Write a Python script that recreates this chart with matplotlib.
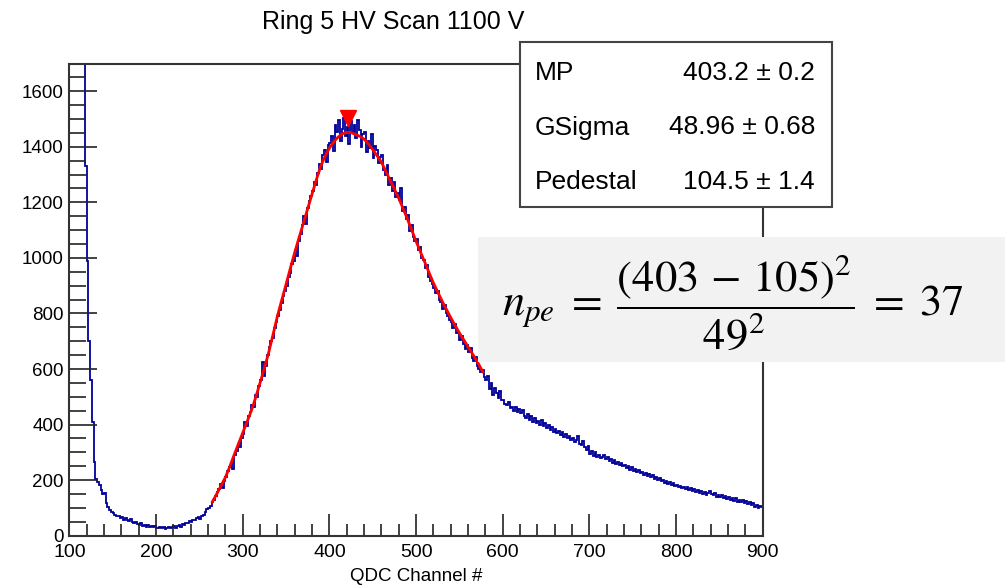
import numpy as np
import matplotlib
matplotlib.use("Agg")
import matplotlib.pyplot as plt
from matplotlib.patches import Rectangle
from matplotlib.ticker import MultipleLocator

plt.rcParams['font.family'] = ['Liberation Sans', 'DejaVu Sans']
plt.rcParams['mathtext.fontset'] = 'stix'

# QDC spectrum, 2-channel bins from 100 to 900
bin_edges = np.arange(100, 902, 2)
counts = [
    9800, 9200, 8100, 6700, 5300, 4100, 3100, 2400, 1780, 1330,
    990, 700, 560, 410, 265, 205, 195, 182, 165, 150,
    155, 118, 104, 92, 86, 80, 76, 72, 70, 62,
    68, 58, 64, 55, 52, 60, 48, 45, 50, 42,
    38, 44, 36, 40, 33, 38, 31, 35, 30, 34,
    29, 26, 32, 28, 30, 25, 29, 33, 27, 31,
    34, 28, 36, 38, 33, 42, 40, 46, 44, 52,
    50, 58, 55, 62, 66, 60, 72, 76, 85, 96,
    98, 108, 122, 130, 142, 158, 168, 185, 172, 198,
    210, 232, 248, 262, 240, 292, 305, 330, 318, 352,
    365, 410, 395, 432, 445, 470, 462, 505, 498, 540,
    560, 625, 575, 610, 652, 680, 700, 712, 748, 770,
    790, 812, 838, 862, 880, 900, 932, 945, 978, 990,
    1030, 1008, 1060, 1085, 1118, 1150, 1122, 1180, 1205, 1222,
    1240, 1275, 1262, 1305, 1338, 1320, 1372, 1390, 1345, 1408,
    1415, 1440, 1385, 1478, 1455, 1498, 1420, 1465, 1505, 1440,
    1470, 1410, 1492, 1455, 1480, 1430, 1498, 1462, 1400, 1445,
    1455, 1380, 1420, 1395, 1445, 1360, 1402, 1388, 1340, 1365,
    1370, 1318, 1300, 1335, 1262, 1288, 1240, 1275, 1220, 1232,
    1210, 1250, 1170, 1185, 1140, 1155, 1098, 1120, 1075, 1060,
    1068, 1030, 1040, 1000, 992, 965, 975, 930, 918, 905,
    890, 872, 880, 850, 842, 815, 832, 800, 790, 775,
    770, 748, 762, 728, 735, 705, 718, 690, 672, 688,
    660, 675, 640, 628, 645, 612, 600, 588, 595, 570,
    560, 575, 528, 548, 505, 530, 512, 495, 520, 490,
    488, 475, 470, 482, 458, 465, 450, 462, 445, 455,
    440, 452, 432, 425, 438, 418, 430, 410, 422, 405,
    412, 400, 418, 395, 405, 388, 398, 380, 392, 375,
    385, 370, 378, 362, 372, 355, 365, 350, 358, 345,
    352, 338, 345, 360, 330, 325, 340, 318, 310, 322,
    295, 305, 288, 300, 282, 292, 278, 285, 290, 275,
    282, 270, 276, 262, 272, 258, 266, 255, 262, 250,
    256, 245, 250, 238, 246, 232, 240, 228, 236, 225,
    230, 220, 226, 215, 222, 210, 218, 205, 212, 200,
    206, 196, 202, 190, 198, 186, 192, 182, 188, 178,
    184, 175, 180, 170, 176, 168, 174, 165, 170, 162,
    168, 158, 164, 155, 162, 150, 158, 148, 154, 160,
    150, 145, 155, 140, 148, 138, 146, 135, 142, 132,
    140, 130, 136, 125, 134, 122, 130, 120, 128, 118,
    124, 115, 120, 110, 118, 105, 112, 100, 108, 104,
]

# Landau x Gauss fit
fit_x = [265, 270, 275, 280, 285, 290, 295, 300, 305, 310, 315, 320, 325, 330,
         335, 340, 345, 350, 355, 360, 365, 370, 375, 380, 385, 390, 395, 400,
         405, 410, 415, 420, 425, 430, 435, 440, 445, 450, 455, 460, 465, 470,
         475, 480, 485, 490, 495, 500, 505, 510, 515, 520, 525, 530, 535, 540,
         545, 550, 555, 560, 565, 570, 577]
fit_y = [122, 150, 180, 210, 248, 290, 330, 370, 410, 450, 498, 550, 603, 660,
         724, 790, 848, 905, 963, 1020, 1073, 1125, 1178, 1230, 1282, 1330, 1366, 1395,
         1418, 1435, 1447, 1452, 1451, 1445, 1438, 1428, 1410, 1390, 1368, 1345, 1313, 1280,
         1248, 1215, 1178, 1140, 1100, 1060, 1022, 985, 947, 910, 877, 845, 815, 785,
         757, 730, 705, 680, 655, 630, 590]

peak_x, peak_y = 421, 1505

stat_names = ["MP", "GSigma", "Pedestal"]
stat_values = ["403.2 \u00b1 0.2", "48.96 \u00b1 0.68", "104.5 \u00b1 1.4"]

fig = plt.figure(figsize=(10.05, 5.88), dpi=100)
ax = fig.add_axes([0.069, 0.089, 0.690, 0.803])

ax.stairs(counts, bin_edges, color="#000099", lw=1.3)
ax.plot(fit_x, fit_y, color="red", lw=2)
ax.plot([peak_x], [peak_y], marker="v", color="red", markersize=11, ls="none")

ax.set_xlim(100, 900)
ax.set_ylim(0, 1700)
ax.xaxis.set_major_locator(MultipleLocator(100))
ax.xaxis.set_minor_locator(MultipleLocator(20))
ax.yaxis.set_major_locator(MultipleLocator(200))
ax.yaxis.set_minor_locator(MultipleLocator(50))
ax.tick_params(which="both", direction="in", top=False, right=False, color="#222222")
ax.tick_params(which="major", length=16, width=1.2)
ax.tick_params(which="minor", length=9, width=1.2)
ax.tick_params(axis="y", which="major", length=20, labelsize=13.5, pad=4)
ax.tick_params(axis="y", which="minor", length=12)
ax.tick_params(axis="x", labelsize=14, pad=6)
for s in ax.spines.values():
    s.set_linewidth(1.5)
    s.set_color("#333333")

ax.set_xlabel("QDC Channel #", fontsize=13.5, labelpad=5)
fig.text(393 / 1005, 1 - 22 / 588, "Ring 5 HV Scan 1100 V", fontsize=18,
         ha="center", va="center")

# stats box
fig.patches.append(Rectangle((520 / 1005, 1 - 207 / 588), 312 / 1005, 165 / 588,
                             transform=fig.transFigure, facecolor="white",
                             edgecolor="#444444", lw=1.5, zorder=5))
for i, (n, v) in enumerate(zip(stat_names, stat_values)):
    yy = 1 - (73 + i * 54.5) / 588
    fig.text(535 / 1005, yy, n, fontsize=19, ha="left", va="center", zorder=6)
    fig.text(815 / 1005, yy, v, fontsize=19, ha="right", va="center", zorder=6)

# formula box
fig.patches.append(Rectangle((478 / 1005, 1 - 362 / 588), 527 / 1005, 125 / 588,
                             transform=fig.transFigure, facecolor="#f2f2f2",
                             edgecolor="none", zorder=5))
fig.text(733 / 1005, 1 - 303 / 588,
         r"$n_{pe}\; = \;\dfrac{(403\, -\, 105)^2}{49^2}\; = \;37$",
         fontsize=32, ha="center", va="center", zorder=6)

fig.savefig("out.png", dpi=100)
